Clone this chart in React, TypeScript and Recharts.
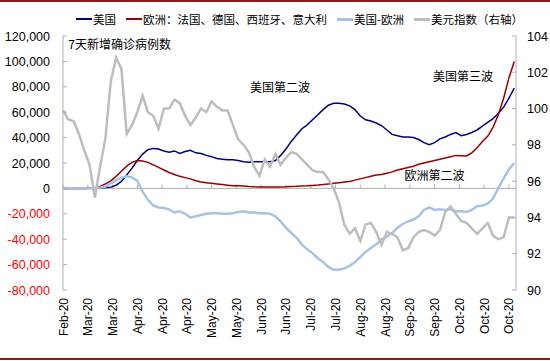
import React from "react";
import { ComposedChart, Line, XAxis, YAxis, ReferenceLine, ReferenceDot, Legend } from "recharts";

// day offsets from 20 Feb 2020, every 3 days
const days = [
  0, 3, 6, 9, 12, 15, 18, 21, 24, 27, 30, 33, 36, 39, 42, 45, 48, 51, 54, 57, 60, 63, 66, 69, 72, 75, 78, 81, 84, 87,
  90, 93, 96, 99, 102, 105, 108, 111, 114, 117, 120, 123, 126, 129, 132, 135, 138, 141, 144, 147, 150, 153, 156, 159,
  162, 165, 168, 171, 174, 177, 180, 183, 186, 189, 192, 195, 198, 201, 204, 207, 210, 213, 216, 219, 222, 225, 228,
  231, 234, 237, 240, 243, 246, 249, 252, 255,
];

// 7-day new cases, thousands
const usCases = [
  0, 0, 0, 0, 0, 0.1, 0.2, 0.4, 0.7, 1, 2.5, 5.5, 10.5, 16, 22, 27, 30.5, 31.5, 31, 29.5, 28.5, 29.5, 27.5, 29, 30, 28,
  27.5, 26, 25, 23.5, 23, 22.5, 22.5, 22, 21, 20.5, 21, 21, 21, 21, 22, 26, 31, 37, 42, 47, 50, 54, 58, 62, 65.5, 67,
  67, 66.5, 65, 62, 57, 54, 53, 51.5, 49.5, 46, 42.5, 41.5, 40.5, 40.5, 40, 38.5, 36, 34.5, 36, 39, 40.5, 42.5, 44,
  41.5, 42.5, 44, 46, 49, 52, 55, 59, 64, 71, 79,
];
const euCases = [
  0, 0, 0, 0, 0, 0.2, 0.5, 1.5, 3.5, 6, 9.5, 13.5, 17.5, 20.5, 22, 21.5, 20.5, 18.5, 16.5, 14.5, 12.5, 11, 9.5, 8.5,
  7.5, 6, 5, 4.5, 4, 3.5, 3, 2.5, 2, 2, 1.8, 1.5, 1.3, 1.2, 1.2, 1.2, 1.2, 1.2, 1.3, 1.5, 1.6, 1.8, 2, 2.3, 2.6, 3,
  3.5, 4, 4.5, 5, 5.5, 6.5, 7.5, 8.5, 9.5, 10.5, 11, 12, 13, 14.5, 15.5, 16.5, 17.5, 19, 20, 21, 22, 23, 24, 25, 26,
  25.8, 25.5, 28, 32, 37, 41, 48, 58, 71, 87, 100,
];
const usMinusEu = [
  0, 0, 0, 0, 0, 0.1, 0.3, 0.7, 1.5, 4, 6.5, 8.5, 9.5, 8.7, 6, -2.5, -9, -13.5, -15, -15.5, -16.5, -19, -18, -20, -23,
  -22, -21, -20, -19.5, -19.5, -20, -20, -19.5, -18.5, -18, -19, -19, -19.5, -19.5, -20, -22, -26, -31, -35, -39, -44,
  -48, -51, -55, -58, -62, -64, -64, -63, -61, -58, -54, -50, -47, -44, -40, -38, -35, -31, -28, -26, -24.5, -22, -17,
  -15, -17, -16.5, -17, -16.5, -18, -18, -18.5, -17, -14, -13.5, -12, -8, 0, 8, 15, 20,
];
// US dollar index, right axis
const dxy = [
  99.9, 99.4, 99.3, 98.6, 97.7, 96.9, 95.1, 96.8, 98.4, 101.5, 102.8, 102.2, 98.6, 99.1, 99.8, 100.7, 99.8, 99.6,
  98.9, 100, 100, 100.5, 100.3, 99.6, 99.1, 99.5, 100, 99.8, 100.4, 100.1, 99.9, 99.9, 99.1, 98.3, 98, 97.6, 96.8,
  96.3, 97.2, 96.8, 97.5, 96.9, 97.3, 97.6, 97.5, 97.2, 96.9, 96.6, 96.5, 96.5, 96.1, 95.6, 94.8, 93.6, 93.1, 93.4,
  92.7, 93.6, 93.7, 93.2, 92.5, 93.2, 93.1, 92.9, 92.2, 92.3, 92.9, 93.2, 93.3, 93.2, 93, 93.3, 94.3, 94.6, 94.2,
  93.8, 93.7, 93.4, 93.1, 93.4, 93.7, 93, 92.8, 92.9, 94, 94,
];

const xTicks = [0, 14, 28, 42, 56, 70, 84, 98, 112, 126, 140, 154, 168, 182, 196, 210, 224, 238, 252];
const xTickLabels = [
  "Feb-20", "Mar-20", "Mar-20", "Apr-20", "Apr-20", "Apr-20", "May-20", "May-20", "Jun-20", "Jun-20",
  "Jul-20", "Jul-20", "Aug-20", "Aug-20", "Sep-20", "Sep-20", "Oct-20", "Oct-20", "Oct-20",
];
const leftTicks = [-80000, -60000, -40000, -20000, 0, 20000, 40000, 60000, 80000, 100000, 120000];
const rightTicks = [90, 92, 94, 96, 98, 100, 102, 104];

const seriesNames = ["美国", "欧洲：法国、德国、西班牙、意大利", "美国-欧洲", "美元指数（右轴）"];
const seriesColors = ["#00007A", "#990000", "#A6C3E6", "#BDBDBD"];

const data = days.map((d, i) => ({
  day: d,
  us: usCases[i] * 1000,
  eu: euCases[i] * 1000,
  diff: usMinusEu[i] * 1000,
  dxy: dxy[i],
}));

const FONT = "'Liberation Sans', Arial, sans-serif";
const CJK = "'Noto Sans CJK SC', sans-serif";

const LeftTick = (props: any) => {
  const { x, y, payload } = props;
  const v = payload.value as number;
  return (
    <text x={x} y={y} dy={4.5} textAnchor="end" fontSize={12.5} fontFamily={FONT} fill={v < 0 ? "#FF0000" : "#000"}>
      {v.toLocaleString("en-US")}
    </text>
  );
};

const RightTick = (props: any) => {
  const { x, y, payload } = props;
  return (
    <text x={x} y={y} dy={4.5} textAnchor="start" fontSize={12.5} fontFamily={FONT} fill="#000">
      {payload.value}
    </text>
  );
};

const BottomTick = (props: any) => {
  const { x, y, payload } = props;
  const idx = xTicks.indexOf(payload.value);
  return (
    <text x={x} y={y} dy={4.5} transform={`rotate(-90, ${x}, ${y})`} textAnchor="end" fontSize={12} fontFamily={FONT} fill="#000">
      {xTickLabels[idx]}
    </text>
  );
};

const LegendContent = () => (
  <div
    style={{
      position: "relative",
      top: -5,
      display: "flex",
      alignItems: "center",
      paddingLeft: 76,
      fontFamily: CJK,
      fontSize: 11.5,
      height: 24,
      color: "#000",
    }}
  >
    {seriesNames.map((n, i) => (
      <span key={n} style={{ display: "flex", alignItems: "center", marginRight: 10, whiteSpace: "nowrap" }}>
        <span style={{ display: "inline-block", width: 16, height: i >= 2 ? 3 : 2, background: seriesColors[i], marginRight: 1 }} />
        {n}
      </span>
    ))}
  </div>
);

const note = (value: string, anchor: "middle" | "start") => (props: any) => {
  const { viewBox } = props;
  const cx = viewBox.x + viewBox.width / 2;
  const cy = viewBox.y + viewBox.height / 2;
  return (
    <text x={cx} y={cy} dy={4} textAnchor={anchor} fontSize={12} fontFamily={CJK} fill="#000">
      {value}
    </text>
  );
};

export default function App() {
  return (
    <div style={{ position: "absolute", left: 0, top: 0, width: 550, height: 361, background: "#fff" }}>
      <div style={{ position: "absolute", left: 0, top: 0, width: 550, height: 2, background: "#8B1A1A" }} />
      <div style={{ position: "absolute", left: 0, top: 358, width: 550, height: 2, background: "#8B1A1A" }} />
      <ComposedChart width={550} height={361} data={data} margin={{ top: 12, right: 0, bottom: 0, left: 0 }}>
        <Legend verticalAlign="top" align="left" content={<LegendContent />} wrapperStyle={{ height: 24 }} />
        <XAxis
          dataKey="day"
          type="number"
          domain={[0, 256]}
          ticks={xTicks}
          tick={<BottomTick />}
          axisLine={false}
          tickLine={false}
          tickSize={0}
          tickMargin={8}
          height={71}
          interval={0}
        />
        <YAxis
          yAxisId="left"
          domain={[-80000, 120000]}
          ticks={leftTicks}
          tick={<LeftTick />}
          width={63}
          axisLine={{ stroke: "#AFAFAF" }}
          tickLine={{ stroke: "#AFAFAF" }}
          tickSize={-4}
          tickMargin={17}
          interval={0}
        />
        <YAxis
          yAxisId="right"
          orientation="right"
          domain={[90, 104]}
          ticks={rightTicks}
          tick={<RightTick />}
          width={34}
          axisLine={{ stroke: "#AFAFAF" }}
          tickLine={{ stroke: "#AFAFAF" }}
          tickSize={-4}
          tickMargin={15}
          interval={0}
        />
        <ReferenceLine yAxisId="left" y={0} stroke="#AFAFAF" strokeWidth={1} />
        {xTicks.map((t) => (
          <ReferenceLine
            key={t}
            yAxisId="left"
            segment={[{ x: t, y: 0 }, { x: t, y: 3000 }]}
            stroke="#AFAFAF"
            strokeWidth={1}
          />
        ))}
        <Line yAxisId="left" dataKey="us" name={seriesNames[0]} stroke={seriesColors[0]} strokeWidth={1.5} dot={false} isAnimationActive={false} />
        <Line yAxisId="left" dataKey="eu" name={seriesNames[1]} stroke={seriesColors[1]} strokeWidth={1.5} dot={false} isAnimationActive={false} />
        <Line yAxisId="left" dataKey="diff" name={seriesNames[2]} stroke={seriesColors[2]} strokeWidth={2.5} dot={false} isAnimationActive={false} />
        <Line yAxisId="right" dataKey="dxy" name={seriesNames[3]} stroke={seriesColors[3]} strokeWidth={2.5} dot={false} isAnimationActive={false} />
        <ReferenceDot yAxisId="left" x={3} y={112600} r={0} fill="none" stroke="none" label={note("7天新增确诊病例数", "start")} />
        <ReferenceDot yAxisId="left" x={122.7} y={78700} r={0} fill="none" stroke="none" label={note("美国第二波", "middle")} />
        <ReferenceDot yAxisId="left" x={226} y={87400} r={0} fill="none" stroke="none" label={note("美国第三波", "middle")} />
        <ReferenceDot yAxisId="left" x={210} y={9400} r={0} fill="none" stroke="none" label={note("欧洲第二波", "middle")} />
      </ComposedChart>
    </div>
  );
}
